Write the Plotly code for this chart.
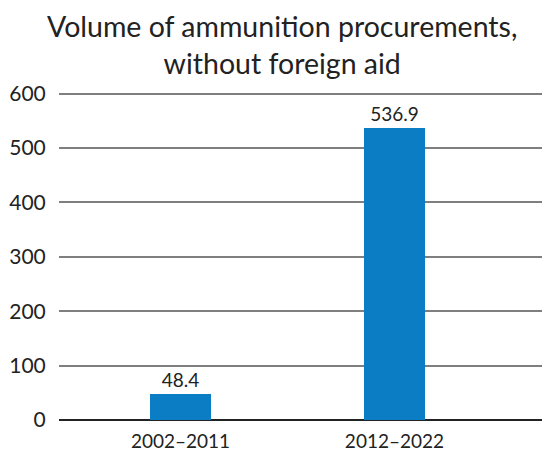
import plotly.graph_objects as go

categories = ["2002–2011", "2012–2022"]
values = [48.4, 536.9]
value_labels = ["48.4", "536.9"]
y_ticks = [0, 100, 200, 300, 400, 500, 600]
title_lines = ["Volume of ammunition procurements,", "without foreign aid"]

FONT = "Lato, 'Open Sans', sans-serif"
INK = "#222222"

W, H = 542, 459
L, T, B = 51, 84.4, 47
PH = H - T - B
PW = W - L

fig = go.Figure(go.Bar(
    x=[0, 1],
    y=values,
    width=0.285,
    marker=dict(color="#0a7dc4", line=dict(width=0)),
    text=value_labels,
    textposition="outside",
    textfont=dict(family=FONT, size=19, color=INK),
    cliponaxis=False,
))

def py(fig_y):
    return (T + PH - fig_y) / PH

fig.add_annotation(
    text="<br>".join(title_lines), xref="paper", yref="paper",
    x=(273.5 - L) / PW, y=py(37), xanchor="center", yanchor="middle",
    align="center", showarrow=False,
    font=dict(family=FONT, size=28.5, color=INK),
)

fig.update_layout(
    width=W, height=H,
    margin=dict(l=L, r=0, t=T, b=B),
    paper_bgcolor="white", plot_bgcolor="white",
    showlegend=False,
    font=dict(family=FONT, color=INK),
    bargap=0,
)
fig.update_xaxes(
    range=[-0.568, 1.727],
    tickmode="array", tickvals=[0, 1], ticktext=categories,
    showgrid=False, zeroline=False, showline=False,
    ticks="outside", ticklen=4, tickcolor="rgba(0,0,0,0)",
    tickfont=dict(family=FONT, size=19, color=INK),
)
fig.update_yaxes(
    range=[0, 603],
    tickmode="array", tickvals=y_ticks,
    showgrid=True, gridcolor="#7f7f7f", gridwidth=1.5,
    zeroline=True, zerolinecolor=INK, zerolinewidth=1.5,
    showline=False,
    ticks="outside", ticklen=8, tickcolor="rgba(0,0,0,0)",
    tickfont=dict(family=FONT, size=21, color=INK),
)

fig.write_html("out.html")
